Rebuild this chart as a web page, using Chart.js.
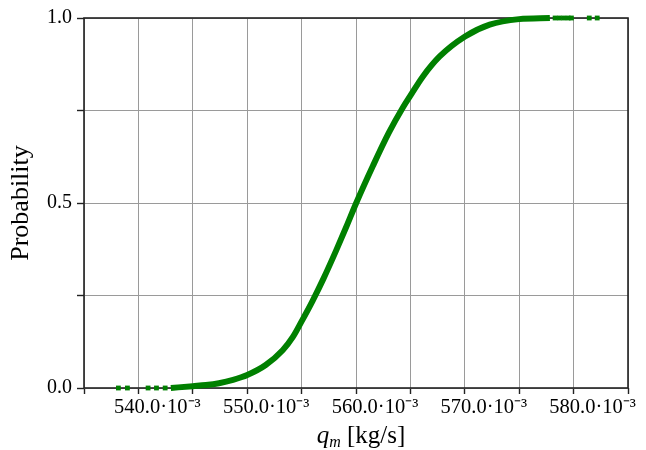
<!DOCTYPE html>
<html>
<head>
<meta charset="utf-8">
<script src="https://cdn.jsdelivr.net/npm/chart.js@4.4.1/dist/chart.umd.min.js"></script>
<style>
  html, body { margin: 0; padding: 0; background: #fff; }
  #wrap { width: 646px; height: 450px; position: relative; }
</style>
</head>
<body>
<div id="wrap"><canvas id="c" width="646" height="450"></canvas></div>
<script>
// Mass flow q_m in units of 10^-3 kg/s, and cumulative probability
const curveQ = [542.98, 545.0, 546.2, 547.4, 548.7, 550.0, 551.7, 553.26, 554.2, 555.0, 556.0, 557.0, 558.18, 559.1, 560.02, 561.55, 563.02, 564.31, 565.0, 566.15, 567.69, 570.02, 572.29, 574.99, 577.82];
const curveP = [0.0, 0.005, 0.008, 0.013, 0.022, 0.035, 0.062, 0.102, 0.138, 0.180, 0.235, 0.295, 0.372, 0.435, 0.5, 0.6, 0.69, 0.758, 0.79, 0.842, 0.896, 0.95, 0.982, 0.997, 1.0];
const lowTailQ = [538.16, 538.99, 540.89, 541.66, 542.46];
const lowTailP = [0, 0, 0, 0, 0];
const highTailQ = [578.3, 578.7, 579.1, 579.5, 579.8, 581.44, 582.17];
const highTailP = [1, 1, 1, 1, 1, 1, 1];
const xMin = 535, xMax = 585, xStep = 5;
const yTickValues = [0, 0.25, 0.5, 0.75, 1.0];
const yLabelled = [0, 0.5, 1.0];
const xTitleParts = { sym: 'q', sub: 'm', unit: ' [kg/s]' };
const yTitle = 'Probability';

const GREEN = 'rgb(0,128,0)';
const SERIF = "'Liberation Serif', 'Times New Roman', serif";

const curvePts = curveQ.map((q, i) => ({ x: q, y: curveP[i] }));
const tailPts = lowTailQ.map((q, i) => ({ x: q, y: lowTailP[i] }))
  .concat(highTailQ.map((q, i) => ({ x: q, y: highTailP[i] })));

const framePlugin = {
  id: 'frame',
  beforeDatasetsDraw(chart) {
    const { ctx, chartArea: a } = chart;
    ctx.save();
    ctx.strokeStyle = '#222';
    ctx.lineWidth = 1.6;
    ctx.strokeRect(a.left, a.top, a.right - a.left, a.bottom - a.top);
    ctx.restore();
  },
  afterDraw(chart) {
    const { ctx, chartArea: a } = chart;
    ctx.save();
    ctx.fillStyle = '#000';
    ctx.textBaseline = 'alphabetic';
    const fMain = "italic 25px " + SERIF;
    const fSub = "italic 16px " + SERIF;
    const fUnit = "25px " + SERIF;
    ctx.font = fMain; const w1 = ctx.measureText(xTitleParts.sym).width;
    ctx.font = fSub; const w2 = ctx.measureText(xTitleParts.sub).width;
    ctx.font = fUnit; const w3 = ctx.measureText(xTitleParts.unit).width;
    const total = w1 + w2 + w3;
    let x = (a.left + a.right) / 2 + 5 - total / 2;
    const base = 443;
    ctx.font = fMain; ctx.fillText(xTitleParts.sym, x, base); x += w1;
    ctx.font = fSub; ctx.fillText(xTitleParts.sub, x, base + 4); x += w2;
    ctx.font = fUnit; ctx.fillText(xTitleParts.unit, x, base);
    ctx.restore();
  }
};

new Chart(document.getElementById('c'), {
  type: 'scatter',
  data: {
    datasets: [
      {
        data: curvePts,
        showLine: true,
        borderColor: GREEN,
        backgroundColor: GREEN,
        borderWidth: 6,
        pointRadius: 0,
        cubicInterpolationMode: 'monotone',
        borderCapStyle: 'butt',
        clip: 10
      },
      {
        data: tailPts,
        showLine: false,
        pointStyle: 'rect',
        pointRadius: 3.4,
        borderWidth: 0,
        backgroundColor: GREEN,
        borderColor: GREEN,
        clip: 10
      }
    ]
  },
  options: {
    responsive: false,
    animation: false,
    devicePixelRatio: 1,
    layout: { padding: { top: 18, right: 18, left: 0, bottom: 0 } },
    plugins: { legend: { display: false }, tooltip: { enabled: false } },
    scales: {
      x: {
        type: 'linear',
        min: xMin, max: xMax,
        afterFit(s) { s.height = 62; },
        border: { display: false },
        grid: { color: '#9a9a9a', lineWidth: 1, tickColor: '#222', tickLength: 6, tickWidth: 1.4 },
        ticks: {
          stepSize: xStep,
          autoSkip: false,
          maxRotation: 0,
          padding: 1,
          labelOffset: 19,
          color: '#000',
          font: { family: SERIF, size: 20.5 },
          callback: (v) => (Math.round(v) % 10 === 0 ? v.toFixed(1) + '·10⁻³' : '')
        },
        title: { display: false }
      },
      y: {
        type: 'linear',
        min: 0, max: 1,
        afterFit(s) { s.width = 84; },
        afterBuildTicks(s) { s.ticks = yTickValues.map(v => ({ value: v })); },
        border: { display: false },
        grid: { color: '#9a9a9a', lineWidth: 1, tickColor: '#222', tickLength: 7, tickWidth: 1.4 },
        ticks: {
          padding: 5,
          color: '#000',
          font: { family: SERIF, size: 20 },
          callback: (v) => (yLabelled.includes(v) ? v.toFixed(1) : '')
        },
        title: {
          display: true,
          text: yTitle,
          color: '#000',
          font: { family: SERIF, size: 26 },
          padding: { top: 6, bottom: 0 }
        }
      }
    }
  },
  plugins: [framePlugin]
});
</script>
</body>
</html>
